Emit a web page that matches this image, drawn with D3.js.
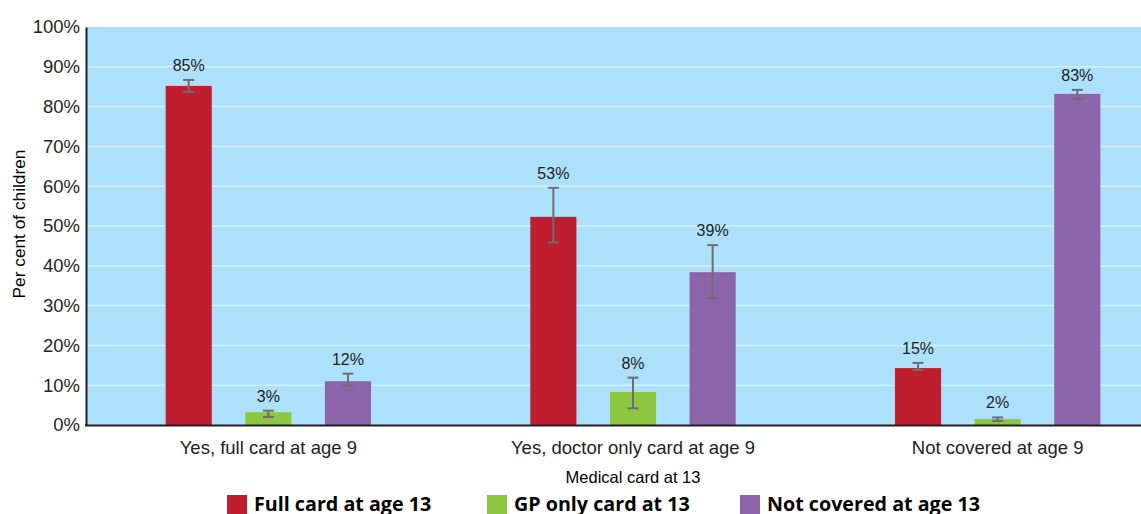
<!DOCTYPE html>
<html>
<head>
<meta charset="utf-8">
<script src="https://cdn.jsdelivr.net/npm/d3@7"></script>
<style>
  html, body { margin: 0; padding: 0; background: #ffffff; }
  svg { display: block; }
</style>
</head>
<body>
<svg id="chart" width="1141" height="514"></svg>
<script>
// ---- data ----
const categories = ["Yes, full card at age 9", "Yes, doctor only card at age 9", "Not covered at age 9"];
const seriesNames = ["Full card at age 13", "GP only card at 13", "Not covered at age 13"];
const fullCard    = [85.2, 52.3, 14.3];
const gpOnly      = [3.2, 8.3, 1.5];
const notCovered  = [11.0, 38.4, 83.2];
const fullLow  = [83.7, 45.9, 13.8];
const fullHigh = [86.7, 59.6, 15.6];
const gpLow    = [2.0, 4.2, 1.0];
const gpHigh   = [3.6, 11.9, 1.9];
const notLow   = [9.9, 31.9, 82.0];
const notHigh  = [12.9, 45.2, 84.2];
const fullLabels = ["85%", "53%", "15%"];
const gpLabels   = ["3%", "8%", "2%"];
const notLabels  = ["12%", "39%", "83%"];
const yTicks = [0, 10, 20, 30, 40, 50, 60, 70, 80, 90, 100];
const colors = ["#BE1E2D", "#8DC63F", "#8C64AA"];

(function () {
const seriesData = [
  {name: seriesNames[0], values: fullCard, low: fullLow, high: fullHigh, labels: fullLabels},
  {name: seriesNames[1], values: gpOnly, low: gpLow, high: gpHigh, labels: gpLabels},
  {name: seriesNames[2], values: notCovered, low: notLow, high: notHigh, labels: notLabels}
];
const rows = [];
seriesData.forEach((s, si) => {
  categories.forEach((c, ci) => {
    rows.push({cat: c, series: s.name, si, value: s.values[ci], low: s.low[ci], high: s.high[ci], label: s.labels[ci]});
  });
});

// ---- layout ----
const svg = d3.select("#chart");
const W = 1141;
const mLeft = 86, mTop = 27, mBottom = 425, plotRight = 1180;
const font = "'Liberation Sans', Arial, Helvetica, sans-serif";

const x0 = d3.scaleBand().domain(categories).range([mLeft, plotRight]).padding(0);
const x1 = d3.scaleBand().domain(seriesNames).range([0, x0.bandwidth()]).paddingInner(0.421).paddingOuter(1.0);
const y = d3.scaleLinear().domain([0, 100]).range([mBottom, mTop]);
const color = d3.scaleOrdinal().domain(seriesNames).range(colors);

// background
svg.append("rect")
  .attr("x", mLeft).attr("y", mTop)
  .attr("width", W - mLeft).attr("height", mBottom - mTop)
  .attr("fill", "#ADE1FB");

// gridlines
svg.append("g")
  .selectAll("line")
  .data(yTicks.filter(t => t > 0 && t < 100))
  .join("line")
  .attr("x1", mLeft).attr("x2", W)
  .attr("y1", d => y(d)).attr("y2", d => y(d))
  .attr("stroke", "#D4EEFB").attr("stroke-width", 1.5);

// bars
svg.append("g")
  .selectAll("rect")
  .data(rows)
  .join("rect")
  .attr("x", d => x0(d.cat) + x1(d.series))
  .attr("y", d => y(d.value))
  .attr("width", x1.bandwidth())
  .attr("height", d => y(0) - y(d.value))
  .attr("fill", d => color(d.series));

// error bars
const eb = svg.append("g").attr("stroke", "#6D6E71").attr("stroke-width", 2);
rows.forEach(d => {
  const cx = x0(d.cat) + x1(d.series) + x1.bandwidth() / 2;
  eb.append("line").attr("x1", cx).attr("x2", cx).attr("y1", y(d.high)).attr("y2", y(d.low));
  eb.append("line").attr("x1", cx - 5.5).attr("x2", cx + 5.5).attr("y1", y(d.high)).attr("y2", y(d.high));
  eb.append("line").attr("x1", cx - 5.5).attr("x2", cx + 5.5).attr("y1", y(d.low)).attr("y2", y(d.low));
});

// value labels
svg.append("g")
  .selectAll("text")
  .data(rows)
  .join("text")
  .attr("x", d => x0(d.cat) + x1(d.series) + x1.bandwidth() / 2)
  .attr("y", d => y(d.high) - 9)
  .attr("text-anchor", "middle")
  .attr("font-family", font)
  .attr("font-size", 16)
  .attr("fill", "#231F20")
  .text(d => d.label);

// y axis
const yAxis = d3.axisLeft(y).tickValues(yTicks).tickSize(0).tickPadding(6).tickFormat(d => d + "%");
const gy = svg.append("g").attr("transform", `translate(${mLeft},0)`).call(yAxis);
gy.select(".domain").attr("stroke", "#231F20").attr("stroke-width", 2);
gy.selectAll("text").attr("font-family", font).attr("font-size", 18.5).attr("fill", "#231F20");

// x axis
const xAxis = d3.axisBottom(x0).tickSize(0).tickPadding(16);
const gx = svg.append("g").attr("transform", `translate(0,${mBottom})`).call(xAxis);
gx.select(".domain").remove();
gx.selectAll("text").attr("font-family", font).attr("font-size", 18.5).attr("fill", "#231F20");
svg.append("line")
  .attr("x1", mLeft - 1).attr("x2", W)
  .attr("y1", mBottom + 0.5).attr("y2", mBottom + 0.5)
  .attr("stroke", "#231F20").attr("stroke-width", 2);

// axis titles
svg.append("text")
  .attr("x", (mLeft + plotRight) / 2).attr("y", 483)
  .attr("text-anchor", "middle")
  .attr("font-family", font).attr("font-size", 16.5).attr("fill", "#000")
  .text("Medical card at 13");

svg.append("text")
  .attr("transform", `translate(25,${(mTop + mBottom) / 2 - 2}) rotate(-90)`)
  .attr("text-anchor", "middle")
  .attr("font-family", font).attr("font-size", 17.3).attr("fill", "#000")
  .text("Per cent of children");

// legend
const legendX = [227, 487, 740];
const lg = svg.append("g");
seriesNames.forEach((n, i) => {
  lg.append("rect").attr("x", legendX[i]).attr("y", 495).attr("width", 20).attr("height", 20).attr("fill", colors[i]);
  lg.append("text")
    .attr("x", legendX[i] + 27).attr("y", 511)
    .attr("font-family", "'Open Sans', sans-serif").attr("font-weight", 700)
    .attr("font-size", 19.7).attr("fill", "#000")
    .text(n);
});
})();
</script>
</body>
</html>
